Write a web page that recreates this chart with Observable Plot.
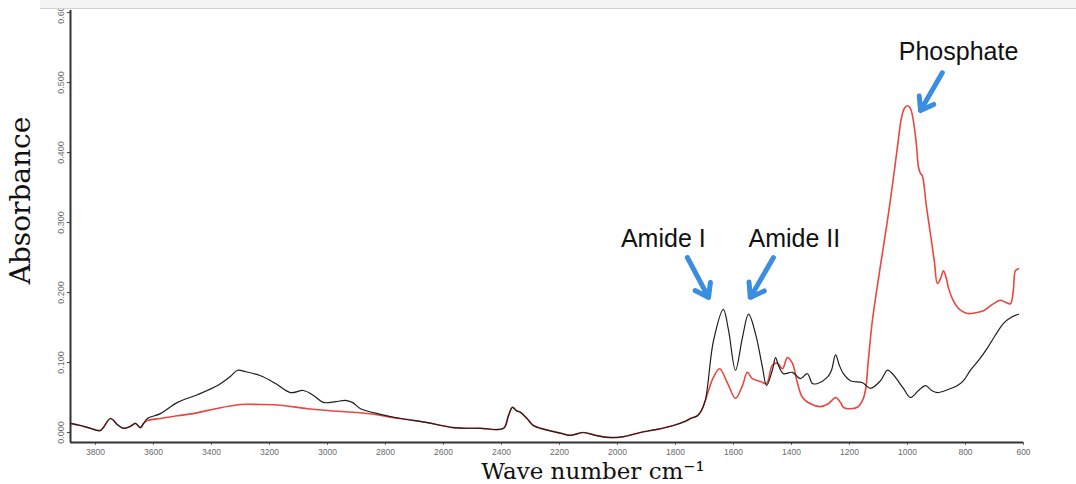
<!DOCTYPE html>
<html><head><meta charset="utf-8">
<script src="https://cdn.jsdelivr.net/npm/d3@7"></script>
<script src="https://cdn.jsdelivr.net/npm/@observablehq/plot@0.6"></script>
<style>
html,body{margin:0;padding:0;background:#fff;}
#wrap{position:relative;width:1076px;height:484px;overflow:hidden;}
#band{position:absolute;left:40px;top:0;width:1036px;height:8px;background:#f3f3f3;border-bottom:1px solid #d4d4d4;}
</style></head><body><div id="wrap"></div>
<script>
// Spectrum 1 (black)
const blackWave = [3886,3852,3817,3783,3748,3724,3703,3679,3662,3645,3634,3621,3576,3517,3448,3379,3335,3310,3283,3231,3179,3128,3083,3048,3014,2972,2938,2914,2886,2817,2748,2655,2566,2473,2393,2376,2362,2348,2335,2310,2290,2248,2197,2162,2117,2076,2035,1979,1921,1869,1807,1766,1748,1724,1711,1697,1669,1635,1617,1593,1569,1548,1524,1500,1486,1466,1455,1445,1428,1397,1369,1345,1328,1310,1276,1262,1248,1235,1221,1197,1155,1128,1093,1069,1052,1042,1014,990,962,938,917,897,862,828,807,783,755,724,697,669,645,617];
const blackAbs = [0.013,0.010,0.006,0.003,0.020,0.011,0.006,0.009,0.013,0.007,0.013,0.020,0.027,0.043,0.054,0.067,0.080,0.089,0.087,0.081,0.070,0.057,0.060,0.053,0.043,0.044,0.046,0.043,0.034,0.026,0.020,0.014,0.007,0.006,0.006,0.024,0.036,0.031,0.029,0.019,0.010,0.004,-0.001,-0.004,0.000,-0.004,-0.007,-0.006,0.000,0.004,0.010,0.016,0.020,0.024,0.031,0.046,0.131,0.176,0.146,0.089,0.136,0.169,0.141,0.093,0.067,0.089,0.107,0.096,0.084,0.086,0.077,0.084,0.070,0.070,0.079,0.089,0.111,0.096,0.084,0.074,0.071,0.063,0.074,0.089,0.084,0.079,0.063,0.050,0.060,0.067,0.060,0.057,0.061,0.067,0.074,0.089,0.103,0.121,0.139,0.156,0.164,0.169];
// Spectrum 2 (red)
const redWave = [3886,3852,3817,3783,3748,3724,3703,3679,3662,3645,3634,3621,3576,3517,3462,3386,3300,3231,3162,3069,2990,2910,2841,2772,2748,2655,2566,2473,2393,2376,2362,2348,2335,2310,2290,2248,2197,2162,2117,2076,2035,1979,1921,1869,1807,1766,1748,1724,1711,1697,1669,1648,1621,1593,1569,1552,1535,1507,1486,1466,1448,1431,1414,1397,1379,1362,1335,1300,1273,1248,1231,1221,1197,1173,1155,1145,1135,1121,1093,1069,1052,1035,1021,1011,1000,990,980,969,962,955,949,935,921,907,897,886,876,866,859,845,828,811,793,766,738,707,680,662,645,635,628,617];
const redAbs = [0.013,0.010,0.006,0.003,0.020,0.011,0.006,0.009,0.013,0.007,0.013,0.017,0.020,0.024,0.027,0.034,0.040,0.040,0.039,0.034,0.031,0.029,0.026,0.021,0.020,0.014,0.007,0.006,0.006,0.024,0.036,0.031,0.029,0.019,0.010,0.004,-0.001,-0.004,0.000,-0.004,-0.007,-0.006,0.000,0.004,0.010,0.016,0.020,0.024,0.031,0.046,0.079,0.091,0.071,0.049,0.067,0.086,0.077,0.073,0.070,0.096,0.099,0.091,0.107,0.099,0.070,0.050,0.041,0.037,0.041,0.050,0.043,0.036,0.034,0.036,0.046,0.060,0.103,0.160,0.239,0.303,0.353,0.407,0.449,0.463,0.467,0.463,0.446,0.410,0.379,0.370,0.367,0.324,0.284,0.243,0.213,0.220,0.231,0.220,0.207,0.191,0.179,0.173,0.170,0.171,0.174,0.183,0.189,0.186,0.184,0.203,0.231,0.234];

const xTicks = [3800,3600,3400,3200,3000,2800,2600,2400,2200,2000,1800,1600,1400,1200,1000,800,600];
const yTicks = [0,0.1,0.2,0.3,0.4,0.5,0.6];
const yTickLabels = ["0.000","0.100","0.200","0.300","0.400","0.500","0.600"];
const xDomain = [3886, 600];
const yDomain = [-0.0143, 0.603];

const annoText = ["Phosphate","Amide I","Amide II"];
const annoWave = [824, 1842, 1390];
const annoAbs = [0.543, 0.277, 0.277];
const arrowWave1 = [880, 1759, 1462];
const arrowAbs1 = [0.514, 0.250, 0.250];
const arrowWave2 = [955, 1686, 1542];
const arrowAbs2 = [0.460, 0.193, 0.193];

const yTitle = "Absorbance";
const xTitle = "Wave number cm\u207B\u00B9";

const black = blackWave.map((w, i) => ({w, a: blackAbs[i]}));
const red = redWave.map((w, i) => ({w, a: redAbs[i]}));
const labels = annoText.map((t, i) => ({t, w: annoWave[i], a: annoAbs[i]}));
const arrows = arrowWave1.map((w, i) => ({w1: w, a1: arrowAbs1[i], w2: arrowWave2[i], a2: arrowAbs2[i]}));

const chart = Plot.plot({
  width: 1076,
  height: 484,
  marginLeft: 70,
  marginRight: 53,
  marginTop: 10,
  marginBottom: 42,
  style: {background: "transparent", overflow: "visible"},
  x: {domain: xDomain},
  y: {domain: yDomain},
  marks: [
    Plot.axisX({ticks: xTicks, tickFormat: d3.format("d"), tickSize: 3, tickPadding: 3, fontSize: 8.5, color: "#6a6a6a", fontFamily: "Liberation Sans, Arial, sans-serif", label: null}),
    Plot.axisY({ticks: yTicks, tickFormat: () => "", tickSize: 3, color: "#444", label: null}),
    Plot.text(yTicks, {y: d => d, frameAnchor: "left", textAnchor: "middle", text: (d, i) => yTickLabels[i], rotate: -90, dx: -9, fontSize: 9, fill: "#6a6a6a", fontFamily: "Liberation Sans, Arial, sans-serif"}),
    Plot.line(red, {x: "w", y: "a", stroke: "#e9473f", strokeWidth: 1.6, curve: "catmull-rom"}),
    Plot.line(black, {x: "w", y: "a", stroke: "#1e1e1e", strokeWidth: 1.2, curve: "catmull-rom"}),
    Plot.ruleY([yDomain[0]], {stroke: "#333", strokeWidth: 2}),
    Plot.ruleX([xDomain[0]], {stroke: "#333", strokeWidth: 2}),
    Plot.arrow(arrows, {x1: "w1", y1: "a1", x2: "w2", y2: "a2", stroke: "#3a8de0", strokeWidth: 5, headLength: 14, headAngle: 70}),
    Plot.text(labels, {x: "w", y: "a", text: "t", fontSize: 25, fill: "#111", fontFamily: "Liberation Sans, Arial, sans-serif"}),
    Plot.text([yTitle], {frameAnchor: "left", textAnchor: "middle", lineAnchor: "middle", rotate: -90, dx: -49, dy: -26, fontSize: 28, fill: "#111", fontFamily: "DejaVu Serif, serif"}),
    Plot.text([xTitle], {frameAnchor: "bottom", textAnchor: "middle", lineAnchor: "middle", dx: 46, dy: 29, fontSize: 23, fill: "#111", fontFamily: "DejaVu Serif, serif"})
  ]
});
const wrap = document.getElementById("wrap");
wrap.appendChild(chart);
const band = document.createElement("div");
band.id = "band";
wrap.appendChild(band);
</script>
</body></html>
